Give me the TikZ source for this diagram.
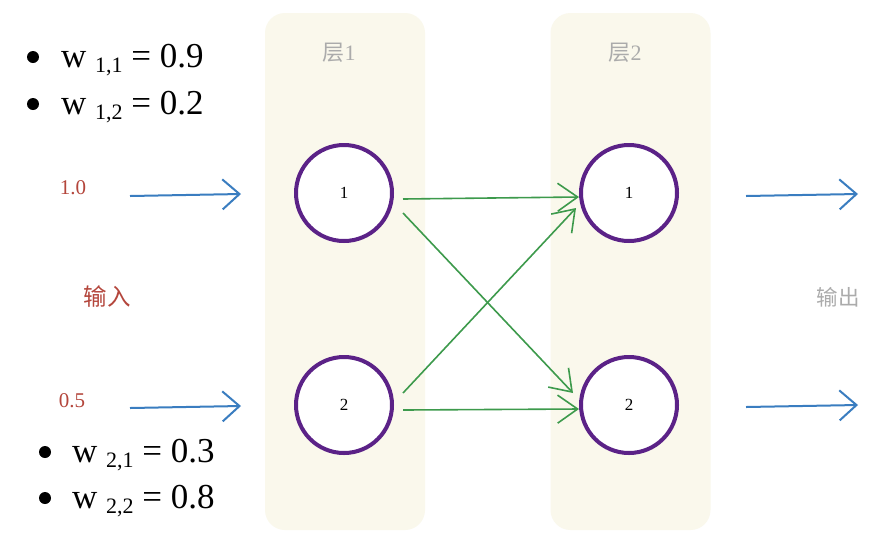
\documentclass[tikz,border=0pt]{standalone}
\usepackage{fontspec}
\setmainfont{Liberation Serif}
\newfontfamily\cjk{Noto Sans CJK SC}
\usetikzlibrary{arrows.meta}
\definecolor{layerbg}{HTML}{FAF8EC}
\definecolor{nodepurple}{HTML}{5B2287}
\definecolor{inred}{HTML}{B4463C}
\definecolor{greyt}{HTML}{ABABAB}
\definecolor{arrblue}{HTML}{3A7DC0}
\definecolor{arrgreen}{HTML}{3D9A4C}
\tikzset{
  layerbox/.style={fill=layerbg, draw=none, rounded corners=20pt},
  neuron/.style={circle, draw=nodepurple, line width=4pt, fill=white, minimum size=96pt, inner sep=0pt, font=\fontsize{17}{17}\selectfont},
  inarrow/.style={draw=arrblue, line width=2pt, -{Straight Barb[length=17pt,width=30pt,line width=2pt]}},
  weightarrow/.style={draw=arrgreen, line width=1.6pt, -{Straight Barb[length=20pt,width=28pt,line width=1.6pt]}},
  bulletdot/.style={circle, fill=black, minimum size=12pt, inner sep=0pt},
  wtext/.style={anchor=base west, inner sep=0pt, font=\fontsize{35}{35}\selectfont},
  inlabel/.style={text=inred, font=\fontsize{21}{21}\selectfont},
  layerlabel/.style={text=greyt, font=\fontsize{22}{22}\selectfont},
}
\newcommand{\wsub}[1]{\raisebox{-0.17em}{\fontsize{22}{22}\selectfont #1}}
\begin{document}
\begin{tikzpicture}[x=1pt,y=-1pt]
\useasboundingbox (0,0) rectangle (896,542);
\fill[white] (0,0) rectangle (896,542);
% layer boxes
\node[layerbox, minimum width=160pt, minimum height=517pt] (box1) at (345,271.5) {};
\node[layerbox, minimum width=160pt, minimum height=517pt] (box2) at (630.5,271.5) {};
\node[layerlabel] (l1) at (339,53) {{\cjk 层}1};
\node[layerlabel] (l2) at (625,53) {{\cjk 层}2};
% neurons
\node[neuron] (a1) at (344,193) {1};
\node[neuron] (a2) at (344,405) {2};
\node[neuron] (b1) at (629,193) {1};
\node[neuron] (b2) at (629,405) {2};
% inputs
\node[inlabel] (x1) at (73,188) {1.0};
\node[inlabel] (x2) at (72,401) {0.5};
\node[inlabel, font=\cjk\fontsize{23.5}{23.5}\selectfont] (inp) at (107,297) {输入};
\node[layerlabel, font=\cjk\fontsize{21.5}{21.5}\selectfont] (outp) at (838,297) {输出};
\coordinate (i1s) at (130,196);
\coordinate (i1e) at (241,194);
\coordinate (i2s) at (130,408);
\coordinate (i2e) at (241,406);
\draw[inarrow] (i1s) -- (i1e);
\draw[inarrow] (i2s) -- (i2e);
\coordinate (o1s) at (746,196);
\coordinate (o1e) at (858,194);
\coordinate (o2s) at (746,407);
\coordinate (o2e) at (858,405);
\draw[inarrow] (o1s) -- (o1e);
\draw[inarrow] (o2s) -- (o2e);
% weights
\draw[weightarrow] ([shift={(59,6)}]a1.center) -- ([shift={(-50,4)}]b1.center);
\draw[weightarrow] ([shift={(59,5)}]a2.center) -- ([shift={(-50,4)}]b2.center);
\draw[weightarrow] ([shift={(59,20)}]a1.center) -- ([shift={(-56,-12)}]b2.center);
\draw[weightarrow] ([shift={(59,-12)}]a2.center) -- ([shift={(-53,15)}]b1.center);
% weight lists
\node[bulletdot] (d1) at (33,57) {};
\node[wtext] (w11) at (61,67) {w \wsub{1,1} = 0.9};
\node[bulletdot] (d2) at (33,104) {};
\node[wtext] (w12) at (61,114) {w \wsub{1,2} = 0.2};
\node[bulletdot] (d3) at (45,452) {};
\node[wtext] (w21) at (72,462) {w \wsub{2,1} = 0.3};
\node[bulletdot] (d4) at (45,498) {};
\node[wtext] (w22) at (72,508) {w \wsub{2,2} = 0.8};
\end{tikzpicture}
\end{document}
